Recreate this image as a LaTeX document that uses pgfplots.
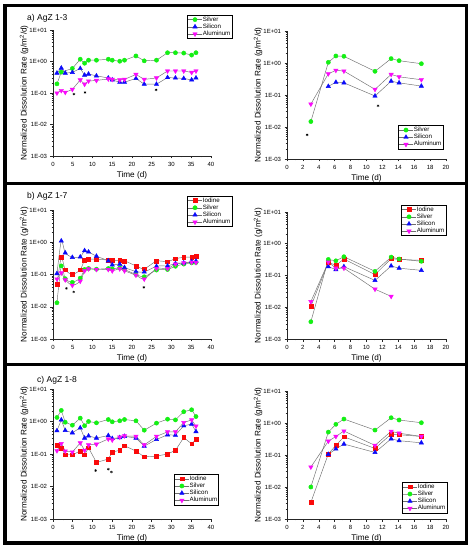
\documentclass[border=0pt]{standalone}
\usepackage{pgfplots}
\pgfplotsset{compat=1.18}
\usepackage{fontspec}
\setmainfont{Liberation Sans}
\definecolor{lgray}{RGB}{110,110,110}
\definecolor{mgreen}{RGB}{20,240,20}
\definecolor{mred}{RGB}{250,10,10}
\definecolor{mblue}{RGB}{10,10,250}
\definecolor{mmag}{RGB}{250,10,250}
\tikzset{
  mySer/.style={color=lgray, line width=0.45pt},
  sIod/.style={mySer, mark=square*, mark size=1.9pt, mark options={solid, draw=mred, fill=mred}},
  sSil/.style={mySer, mark=*, mark size=2.1pt, mark options={solid, draw=mgreen, fill=mgreen}},
  sSi/.style={mySer, mark=triangle*, mark size=2.5pt, mark options={solid, draw=mblue, fill=mblue}},
  sAl/.style={mySer, mark=triangle*, mark size=2.5pt, mark options={solid, draw=mmag, fill=mmag, rotate=180}},
  sAst/.style={only marks, mark=asterisk, mark size=1.3pt, color=black, line width=0.4pt},
}
\newcommand{\myLegImg}{\draw[mark repeat=2,mark phase=2] plot coordinates {(0pt,0pt)(7pt,0pt)(14pt,0pt)};}
\begin{document}
\begin{tikzpicture}[x=1pt,y=1pt]
\fill[white] (0,0) rectangle (469,550);
% ---------------- panel a left
\begin{axis}[at={(53pt,394pt)}, anchor=south west, scale only axis, width=158pt, height=126pt,
  ymode=log, ymin=1e-3, ymax=10, xmin=0, xmax=40, xtick={0,5,...,40}, minor x tick num=1,
  axis x line*=bottom, axis y line*=left, axis line style={-, line width=0.6pt, black!85},
  tick align=outside, major tick length=2.5pt, minor tick length=1.3pt, tick style={line width=0.5pt, black!85},
  ytick={1e-3,1e-2,1e-1,1,10}, yticklabels={1E-03,1E-02,1E-01,1E+00,1E+01},
  minor ytick={2e-3,3e-3,4e-3,5e-3,6e-3,7e-3,8e-3,9e-3,2e-2,3e-2,4e-2,5e-2,6e-2,7e-2,8e-2,9e-2,0.2,0.3,0.4,0.5,0.6,0.7,0.8,0.9,2,3,4,5,6,7,8,9},
  ticklabel style={font=\fontsize{6}{6}\selectfont}, /pgf/number format/assume math mode=true,
  xlabel={Time (d)}, ylabel={Normalized Dissolution Rate (g/m\textsuperscript{2}/d)},
  label style={font=\fontsize{8.2}{9}\selectfont},
  xlabel style={at={(axis description cs:0.5,0)}, yshift=-19pt, anchor=center},
  ylabel style={at={(axis description cs:-0.183,0.5)}, anchor=center},
  legend style={draw=black, line width=0.4pt, fill=white, font=\fontsize{6.2}{6.5}\selectfont, inner sep=0.8pt, row sep=0pt, nodes={inner sep=0.6pt}, at={(1.133,1.119)}, anchor=north east},
  legend cell align=left, legend image code/.code={\myLegImg}, clip=false]
\addplot[sSil] coordinates {(1,0.195)(2.1,0.46)(4.9,0.6)(6.9,1.18)(8,0.88)(9,1.1)(11,1.1)(14,1.18)(15,1.1)(16.9,1.02)(18.1,1.1)(21,1.5)(23.1,1.05)(26.2,1.1)(29,1.9)(31,1.9)(33.1,1.85)(35.1,1.6)(36.2,1.9)};
\addlegendentry{Silver}
\addplot[sSi] coordinates {(1,0.43)(2.1,0.62)(3.1,0.43)(4.9,0.45)(6.9,0.6)(8,0.37)(9,0.4)(11,0.35)(14,0.3)(15,0.26)(16.9,0.22)(18.1,0.22)(21,0.29)(23.1,0.19)(26.2,0.19)(29,0.31)(31,0.3)(33.1,0.29)(35.1,0.26)(36.2,0.3)};
\addlegendentry{Silicon}
\addplot[sAl] coordinates {(1,0.1)(2.1,0.12)(3.1,0.105)(4.9,0.13)(6.9,0.26)(8,0.19)(9,0.24)(11,0.25)(14,0.28)(15,0.27)(16.9,0.26)(18.1,0.27)(21,0.39)(23.1,0.27)(26.2,0.3)(29,0.5)(31,0.5)(33.1,0.5)(35.1,0.45)(36.2,0.5)};
\addlegendentry{Aluminum}
\addplot[sAst, forget plot] coordinates {(5.3,0.092)(8.1,0.104)(26.1,0.126)};
\end{axis}
% ---------------- panel a right
\begin{axis}[at={(287pt,391pt)}, anchor=south west, scale only axis, width=159pt, height=128pt,
  ymode=log, ymin=1e-3, ymax=10, xmin=0, xmax=20, xtick={0,2,...,20}, minor x tick num=1,
  axis x line*=bottom, axis y line*=left, axis line style={-, line width=0.6pt, black!85},
  tick align=outside, major tick length=2.5pt, minor tick length=1.3pt, tick style={line width=0.5pt, black!85},
  ytick={1e-3,1e-2,1e-1,1,10}, yticklabels={1E-03,1E-02,1E-01,1E+00,1E+01},
  minor ytick={2e-3,3e-3,4e-3,5e-3,6e-3,7e-3,8e-3,9e-3,2e-2,3e-2,4e-2,5e-2,6e-2,7e-2,8e-2,9e-2,0.2,0.3,0.4,0.5,0.6,0.7,0.8,0.9,2,3,4,5,6,7,8,9},
  ticklabel style={font=\fontsize{6}{6}\selectfont}, /pgf/number format/assume math mode=true,
  xlabel={Time (d)}, ylabel={Normalized Dissolution Rate (g/m\textsuperscript{2}/d)},
  label style={font=\fontsize{8.2}{9}\selectfont},
  xlabel style={at={(axis description cs:0.5,0)}, yshift=-19pt, anchor=center},
  ylabel style={at={(axis description cs:-0.182,0.5)}, anchor=center},
  legend style={draw=black, line width=0.4pt, fill=white, font=\fontsize{6.2}{6.5}\selectfont, inner sep=0.8pt, row sep=0pt, nodes={inner sep=0.6pt}, at={(0.981,0.078)}, anchor=south east},
  legend cell align=left, legend image code/.code={\myLegImg}, clip=false]
\addplot[sSil] coordinates {(3,0.0148)(5.2,1.05)(6.15,1.66)(7.16,1.62)(11.07,0.55)(13.1,1.37)(14.1,1.18)(16.9,0.95)};
\addlegendentry{Silver}
\addplot[sSi] coordinates {(5.2,0.186)(6.15,0.25)(7.16,0.24)(11.07,0.093)(13.1,0.27)(14.1,0.24)(16.9,0.19)};
\addlegendentry{Silicon}
\addplot[sAl] coordinates {(3,0.052)(5.2,0.46)(6.15,0.59)(7.16,0.56)(11.07,0.15)(13.1,0.44)(14.1,0.37)(16.9,0.3)};
\addlegendentry{Aluminum}
\addplot[sAst, forget plot] coordinates {(2.53,0.0057)(11.45,0.046)};
\end{axis}
% ---------------- panel b left
\begin{axis}[at={(53pt,211pt)}, anchor=south west, scale only axis, width=158pt, height=129pt,
  ymode=log, ymin=1e-3, ymax=10, xmin=0, xmax=40, xtick={0,5,...,40}, minor x tick num=1,
  axis x line*=bottom, axis y line*=left, axis line style={-, line width=0.6pt, black!85},
  tick align=outside, major tick length=2.5pt, minor tick length=1.3pt, tick style={line width=0.5pt, black!85},
  ytick={1e-3,1e-2,1e-1,1,10}, yticklabels={1E-03,1E-02,1E-01,1E+00,1E+01},
  minor ytick={2e-3,3e-3,4e-3,5e-3,6e-3,7e-3,8e-3,9e-3,2e-2,3e-2,4e-2,5e-2,6e-2,7e-2,8e-2,9e-2,0.2,0.3,0.4,0.5,0.6,0.7,0.8,0.9,2,3,4,5,6,7,8,9},
  ticklabel style={font=\fontsize{6}{6}\selectfont}, /pgf/number format/assume math mode=true,
  xlabel={Time (d)}, ylabel={Normalized Dissolution Rate (g/m\textsuperscript{2}/d)},
  label style={font=\fontsize{8.2}{9}\selectfont},
  xlabel style={at={(axis description cs:0.5,0)}, yshift=-19pt, anchor=center},
  ylabel style={at={(axis description cs:-0.183,0.5)}, anchor=center},
  legend style={draw=black, line width=0.4pt, fill=white, font=\fontsize{6.2}{6.5}\selectfont, inner sep=0.8pt, row sep=0pt, nodes={inner sep=0.6pt}, at={(1.133,1.109)}, anchor=north east},
  legend cell align=left, legend image code/.code={\myLegImg}, clip=false]
\addplot[sIod, smooth, tension=0.4] coordinates {(1,0.051)(2.1,0.34)(3.1,0.14)(4.9,0.1)(6.9,0.14)(8,0.28)(9,0.3)(11,0.3)(14,0.28)(15,0.28)(16.9,0.27)(18.1,0.265)(21,0.185)(23.1,0.15)(26.2,0.26)(29,0.25)(31,0.31)(33.1,0.34)(35.1,0.35)(36.2,0.37)};
\addlegendentry{Iodine}
\addplot[sSil, smooth, tension=0.4] coordinates {(1,0.0133)(2.1,0.185)(3.1,0.074)(4.9,0.057)(6.9,0.077)(8,0.143)(9,0.153)(11,0.146)(14,0.153)(15,0.15)(16.9,0.16)(18.1,0.143)(21,0.1)(23.1,0.085)(26.2,0.137)(29,0.143)(31,0.18)(33.1,0.21)(35.1,0.23)(36.2,0.235)};
\addlegendentry{Silver}
\addplot[sSi, smooth, tension=0.4] coordinates {(1,0.107)(2.1,1.1)(3.1,0.47)(4.9,0.34)(6.9,0.35)(8,0.55)(9,0.5)(11,0.37)(14,0.265)(15,0.2)(16.9,0.21)(18.1,0.165)(21,0.124)(23.1,0.12)(26.2,0.18)(29,0.185)(31,0.22)(33.1,0.23)(35.1,0.25)(36.2,0.26)};
\addlegendentry{Silicon}
\addplot[sAl, smooth, tension=0.4] coordinates {(1,0.072)(2.1,0.112)(3.1,0.068)(4.9,0.046)(6.9,0.062)(8,0.13)(9,0.15)(11,0.143)(14,0.143)(15,0.13)(16.9,0.15)(18.1,0.13)(21,0.095)(23.1,0.072)(26.2,0.153)(29,0.153)(31,0.21)(33.1,0.23)(35.1,0.24)(36.2,0.235)};
\addlegendentry{Aluminum}
\addplot[sAst, forget plot] coordinates {(3.4,0.037)(5.25,0.029)(23,0.04)};
\end{axis}
% ---------------- panel b right
\begin{axis}[at={(287pt,211pt)}, anchor=south west, scale only axis, width=159pt, height=127pt,
  ymode=log, ymin=1e-3, ymax=10, xmin=0, xmax=20, xtick={0,2,...,20}, minor x tick num=1,
  axis x line*=bottom, axis y line*=left, axis line style={-, line width=0.6pt, black!85},
  tick align=outside, major tick length=2.5pt, minor tick length=1.3pt, tick style={line width=0.5pt, black!85},
  ytick={1e-3,1e-2,1e-1,1,10}, yticklabels={1E-03,1E-02,1E-01,1E+00,1E+01},
  minor ytick={2e-3,3e-3,4e-3,5e-3,6e-3,7e-3,8e-3,9e-3,2e-2,3e-2,4e-2,5e-2,6e-2,7e-2,8e-2,9e-2,0.2,0.3,0.4,0.5,0.6,0.7,0.8,0.9,2,3,4,5,6,7,8,9},
  ticklabel style={font=\fontsize{6}{6}\selectfont}, /pgf/number format/assume math mode=true,
  xlabel={Time (d)}, ylabel={Normalized Dissolution Rate (g/m\textsuperscript{2}/d)},
  label style={font=\fontsize{8.2}{9}\selectfont},
  xlabel style={at={(axis description cs:0.5,0)}, yshift=-19pt, anchor=center},
  ylabel style={at={(axis description cs:-0.182,0.5)}, anchor=center},
  legend style={draw=black, line width=0.4pt, fill=white, font=\fontsize{6.2}{6.5}\selectfont, inner sep=0.8pt, row sep=0pt, nodes={inner sep=0.6pt}, at={(1.0,1.055)}, anchor=north east},
  legend cell align=left, legend image code/.code={\myLegImg}, clip=false]
\addplot[sIod] coordinates {(3,0.0107)(5.2,0.26)(6.15,0.21)(7.16,0.33)(11.07,0.107)(13.1,0.34)(14.1,0.32)(16.9,0.3)};
\addlegendentry{Iodine}
\addplot[sSil] coordinates {(3,0.0035)(5.2,0.32)(6.15,0.29)(7.16,0.39)(11.07,0.135)(13.1,0.38)(14.1,0.33)(16.9,0.28)};
\addlegendentry{Silver}
\addplot[sSi] coordinates {(5.2,0.19)(6.15,0.153)(7.16,0.19)(11.07,0.07)(13.1,0.2)(14.1,0.17)(16.9,0.145)};
\addlegendentry{Silicon}
\addplot[sAl] coordinates {(3,0.015)(5.2,0.265)(6.15,0.17)(7.16,0.17)(11.07,0.037)(13.1,0.022)};
\addlegendentry{Aluminum}
\end{axis}
% ---------------- panel c left
\begin{axis}[at={(53pt,31pt)}, anchor=south west, scale only axis, width=158pt, height=130pt,
  ymode=log, ymin=1e-3, ymax=10, xmin=0, xmax=40, xtick={0,5,...,40}, minor x tick num=1,
  axis x line*=bottom, axis y line*=left, axis line style={-, line width=0.6pt, black!85},
  tick align=outside, major tick length=2.5pt, minor tick length=1.3pt, tick style={line width=0.5pt, black!85},
  ytick={1e-3,1e-2,1e-1,1,10}, yticklabels={1E-03,1E-02,1E-01,1E+00,1E+01},
  minor ytick={2e-3,3e-3,4e-3,5e-3,6e-3,7e-3,8e-3,9e-3,2e-2,3e-2,4e-2,5e-2,6e-2,7e-2,8e-2,9e-2,0.2,0.3,0.4,0.5,0.6,0.7,0.8,0.9,2,3,4,5,6,7,8,9},
  ticklabel style={font=\fontsize{6}{6}\selectfont}, /pgf/number format/assume math mode=true,
  xlabel={Time (d)}, ylabel={Normalized Dissolution Rate (g/m\textsuperscript{2}/d)},
  label style={font=\fontsize{8.2}{9}\selectfont},
  xlabel style={at={(axis description cs:0.5,0)}, yshift=-19pt, anchor=center},
  ylabel style={at={(axis description cs:-0.183,0.5)}, anchor=center},
  legend style={draw=black, line width=0.4pt, fill=white, font=\fontsize{6.2}{6.5}\selectfont, inner sep=0.8pt, row sep=0pt, nodes={inner sep=0.6pt}, at={(1.05,0.108)}, anchor=south east},
  legend cell align=left, legend image code/.code={\myLegImg}, clip=false]
\addplot[sIod] coordinates {(1,0.19)(2.1,0.15)(3.1,0.095)(4.9,0.095)(6.9,0.123)(8,0.095)(9,0.155)(11,0.055)(14,0.07)(15,0.115)(16.9,0.13)(18.1,0.18)(21,0.123)(23.1,0.082)(26.2,0.086)(29,0.1)(31,0.13)(33.1,0.32)(35.1,0.206)(36.2,0.28)};
\addlegendentry{Iodine}
\addplot[sSil] coordinates {(1,1.33)(2.1,2.2)(3.1,0.95)(4.9,0.77)(6.9,1.27)(8,0.74)(9,1.0)(11,0.91)(14,1.15)(15,0.98)(16.9,1.05)(18.1,1.15)(21,1.05)(23.1,0.54)(26.2,0.89)(29,1.18)(31,1.12)(33.1,2.0)(35.1,2.3)(36.2,1.42)};
\addlegendentry{Silver}
\addplot[sSi] coordinates {(1,0.52)(2.1,1.12)(3.1,0.53)(4.9,0.45)(6.9,0.64)(8,0.31)(9,0.36)(11,0.31)(14,0.37)(15,0.3)(16.9,0.32)(18.1,0.35)(21,0.31)(23.1,0.175)(26.2,0.28)(29,0.39)(31,0.38)(33.1,0.74)(35.1,0.83)(36.2,0.49)};
\addlegendentry{Silicon}
\addplot[sAl] coordinates {(1,0.126)(2.1,0.21)(3.1,0.123)(4.9,0.115)(6.9,0.22)(8,0.13)(9,0.19)(11,0.2)(14,0.29)(15,0.27)(16.9,0.33)(18.1,0.36)(21,0.35)(23.1,0.19)(26.2,0.35)(29,0.48)(31,0.48)(33.1,0.93)(35.1,1.12)(36.2,0.72)};
\addlegendentry{Aluminum}
\addplot[sAst, forget plot] coordinates {(10.8,0.031)(14,0.034)(14.8,0.028)};
\end{axis}
% ---------------- panel c right
\begin{axis}[at={(287pt,31pt)}, anchor=south west, scale only axis, width=159pt, height=128pt,
  ymode=log, ymin=1e-3, ymax=10, xmin=0, xmax=20, xtick={0,2,...,20}, minor x tick num=1,
  axis x line*=bottom, axis y line*=left, axis line style={-, line width=0.6pt, black!85},
  tick align=outside, major tick length=2.5pt, minor tick length=1.3pt, tick style={line width=0.5pt, black!85},
  ytick={1e-3,1e-2,1e-1,1,10}, yticklabels={1E-03,1E-02,1E-01,1E+00,1E+01},
  minor ytick={2e-3,3e-3,4e-3,5e-3,6e-3,7e-3,8e-3,9e-3,2e-2,3e-2,4e-2,5e-2,6e-2,7e-2,8e-2,9e-2,0.2,0.3,0.4,0.5,0.6,0.7,0.8,0.9,2,3,4,5,6,7,8,9},
  ticklabel style={font=\fontsize{6}{6}\selectfont}, /pgf/number format/assume math mode=true,
  xlabel={Time (d)}, ylabel={Normalized Dissolution Rate (g/m\textsuperscript{2}/d)},
  label style={font=\fontsize{8.2}{9}\selectfont},
  xlabel style={at={(axis description cs:0.5,0)}, yshift=-19pt, anchor=center},
  ylabel style={at={(axis description cs:-0.182,0.5)}, anchor=center},
  legend style={draw=black, line width=0.4pt, fill=white, font=\fontsize{6.2}{6.5}\selectfont, inner sep=0.8pt, row sep=0pt, nodes={inner sep=0.6pt}, at={(1.006,0.047)}, anchor=south east},
  legend cell align=left, legend image code/.code={\myLegImg}, clip=false]
\addplot[sIod] coordinates {(3,0.0033)(5.2,0.108)(6.15,0.2)(7.16,0.37)(11.07,0.16)(13.1,0.45)(14.1,0.43)(16.9,0.38)};
\addlegendentry{Iodine}
\addplot[sSil] coordinates {(3,0.01)(5.2,0.52)(6.15,0.91)(7.16,1.33)(11.07,0.6)(13.1,1.46)(14.1,1.24)(16.9,1.02)};
\addlegendentry{Silver}
\addplot[sSi] coordinates {(5.2,0.105)(6.15,0.155)(7.16,0.22)(11.07,0.12)(13.1,0.32)(14.1,0.28)(16.9,0.24)};
\addlegendentry{Silicon}
\addplot[sAl] coordinates {(3,0.042)(5.2,0.27)(6.15,0.38)(7.16,0.56)(11.07,0.2)(13.1,0.55)(14.1,0.48)(16.9,0.38)};
\addlegendentry{Aluminum}
\end{axis}
% titles
\node[anchor=west, font=\fontsize{8.5}{10}\selectfont, inner sep=0pt] at (27,532) {a) AgZ 1-3};
\node[anchor=west, font=\fontsize{8.5}{10}\selectfont, inner sep=0pt] at (27,354) {b) AgZ 1-7};
\node[anchor=west, font=\fontsize{8.5}{10}\selectfont, inner sep=0pt] at (37,170) {c) AgZ 1-8};
% panel borders
\draw[line width=3.3pt] (5,544.7) rectangle (466.7,366.7);
\draw[line width=3.3pt] (5,366.7) rectangle (466.7,185.5);
\draw[line width=3.3pt] (5,185.5) rectangle (466.7,7);
\end{tikzpicture}
\end{document}
